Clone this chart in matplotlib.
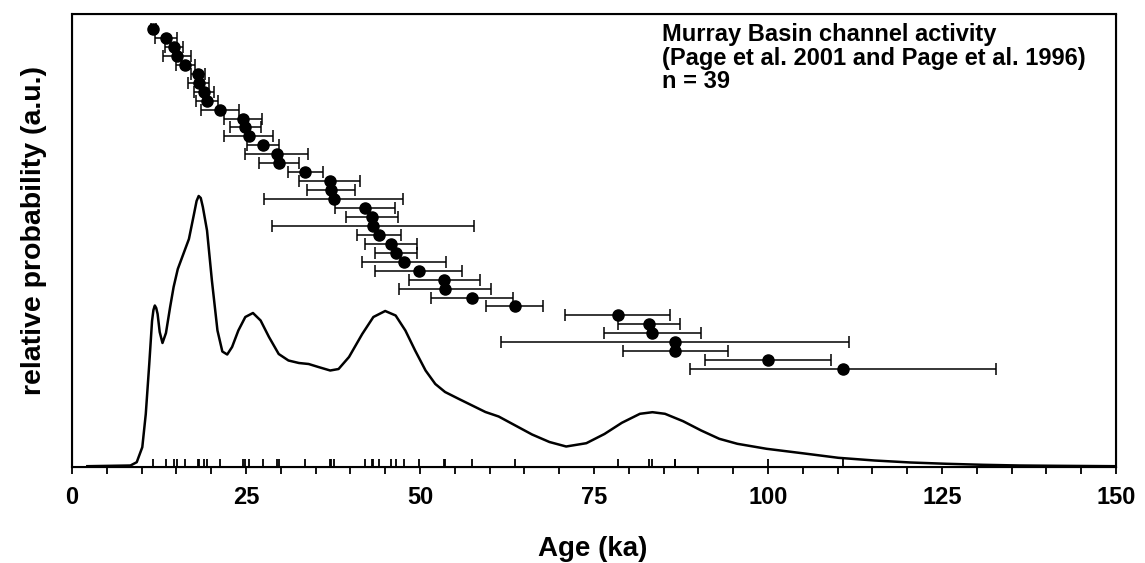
import matplotlib
matplotlib.use("Agg")
import matplotlib.pyplot as plt
from matplotlib.ticker import MultipleLocator

plt.rcParams['font.family'] = ['Liberation Sans', 'DejaVu Sans']
plt.rcParams['font.weight'] = 'bold'

# Ages (ka) sorted, with error (± ka)
ages = [11.7, 13.5, 14.7, 15.1, 16.3, 18.1, 18.2, 19.0, 19.4, 21.3,
        24.6, 24.9, 25.4, 27.4, 29.4, 29.7, 33.5, 37.0, 37.2, 37.6,
        42.1, 43.1, 43.3, 44.1, 45.8, 46.6, 47.7, 49.8, 53.5, 53.6,
        57.5, 63.6, 78.4, 82.9, 83.4, 86.6, 86.7, 100.0, 110.8]
errors = [0.3, 1.6, 1.3, 2.0, 1.4, 1.0, 1.5, 1.45, 1.55, 2.75,
          2.75, 2.2, 3.5, 2.3, 4.55, 2.9, 2.5, 4.45, 3.5, 10.0,
          4.3, 3.7, 14.5, 3.2, 3.7, 3.0, 6.0, 6.25, 5.1, 6.6,
          5.9, 4.05, 7.5, 4.5, 7.0, 25.0, 7.5, 9.0, 22.0]
rows = list(range(len(ages)))

# Relative probability curve (a.u.)
curve_age = [2.2, 8.4, 9.3, 10.1, 10.6, 11.1, 11.5, 11.7, 11.9, 12.1, 12.3, 12.6, 13.0, 13.5,
             14.1, 14.6, 15.2, 16.0, 16.8, 17.5, 17.9, 18.2, 18.5, 18.8, 19.4, 20.1, 20.9,
             21.6, 22.3, 23.0, 23.9, 24.9, 26.0, 27.1, 28.3, 29.7, 31.1, 32.6,
             34.0, 35.4, 37.1, 38.3, 39.8, 41.7, 43.3, 45.0, 46.5, 47.9, 49.3,
             50.8, 52.2, 53.6, 55.6, 57.5, 59.4, 61.3, 63.7, 66.1, 68.6, 71.0,
             73.9, 76.5, 79.0, 81.6, 83.4, 85.2, 87.8, 90.4, 93.0, 95.6, 99.8,
             104.9, 110.1, 115.3, 120.5, 125.7, 130.9, 136.1, 141.3, 150.0]
curve_prob = [0.8, 1.5, 4.8, 19.8, 53, 103, 146, 157, 161.5, 159, 153, 135, 124, 134,
              160, 180, 198, 213, 228, 252, 266, 271, 269, 260, 236.5, 186.5, 136.5,
              115.5, 112.5, 120, 136.5, 150, 154, 146.5, 130, 113, 106.5, 104,
              103, 100, 96.5, 98, 110, 133, 150, 156, 151.5, 136.5, 116.5,
              96.5, 83, 75, 68, 61.5, 55, 50.5, 41.5, 32.5, 25, 20.5,
              23.8, 33, 44.2, 53.2, 54.8, 53.2, 45.8, 36.5, 28.2, 23.2, 18.2,
              13.8, 9.2, 6.5, 4.5, 3.2, 2.2, 1.5, 1.2, 0.8]

annotation = "Murray Basin channel activity\n(Page et al. 2001 and Page et al. 1996)\nn = 39"

fig = plt.figure(figsize=(11.45, 5.63), dpi=100)
ax = fig.add_axes([72/1145, 1 - 467/563, 1044/1145, 453/563])

ax.plot(curve_age, curve_prob, color='black', lw=1.8, solid_joinstyle='round')
ax.vlines(ages, 0, 8, color='black', lw=1.3)
ax.set_xlim(0, 150)
ax.set_ylim(0, 453)
ax.xaxis.set_major_locator(MultipleLocator(25))
ax.xaxis.set_minor_locator(MultipleLocator(5))
ax.tick_params(axis='x', which='both', direction='out', length=5, width=1.3,
               labelsize=17, pad=9)
ax.set_yticks([])
for s in ax.spines.values():
    s.set_linewidth(1.5)
for lab in ax.get_xticklabels():
    lab.set_fontweight('bold')

fig.text(593/1145, 1 - 549/563, 'Age (ka)', fontsize=20, fontweight='bold',
         ha='center', va='center')
fig.text(34/1145, 1 - 230/563, 'relative probability (a.u.)', fontsize=20.5,
         fontweight='bold', ha='center', va='center', rotation=90)

ax2 = ax.twinx()
ax2.errorbar(ages, rows, xerr=errors, fmt='o', color='black', ms=8,
             elinewidth=1.1, capsize=4.5, capthick=1.1)
ax2.set_ylim(48.94, -1.68)
ax2.set_yticks([])
ax2.set_xlim(0, 150)

fig.text(662/1145, 1 - 23/563, annotation, ha='left', va='top',
         fontsize=17, fontweight='bold', linespacing=1.03)

fig.savefig('out.png', dpi=100)
